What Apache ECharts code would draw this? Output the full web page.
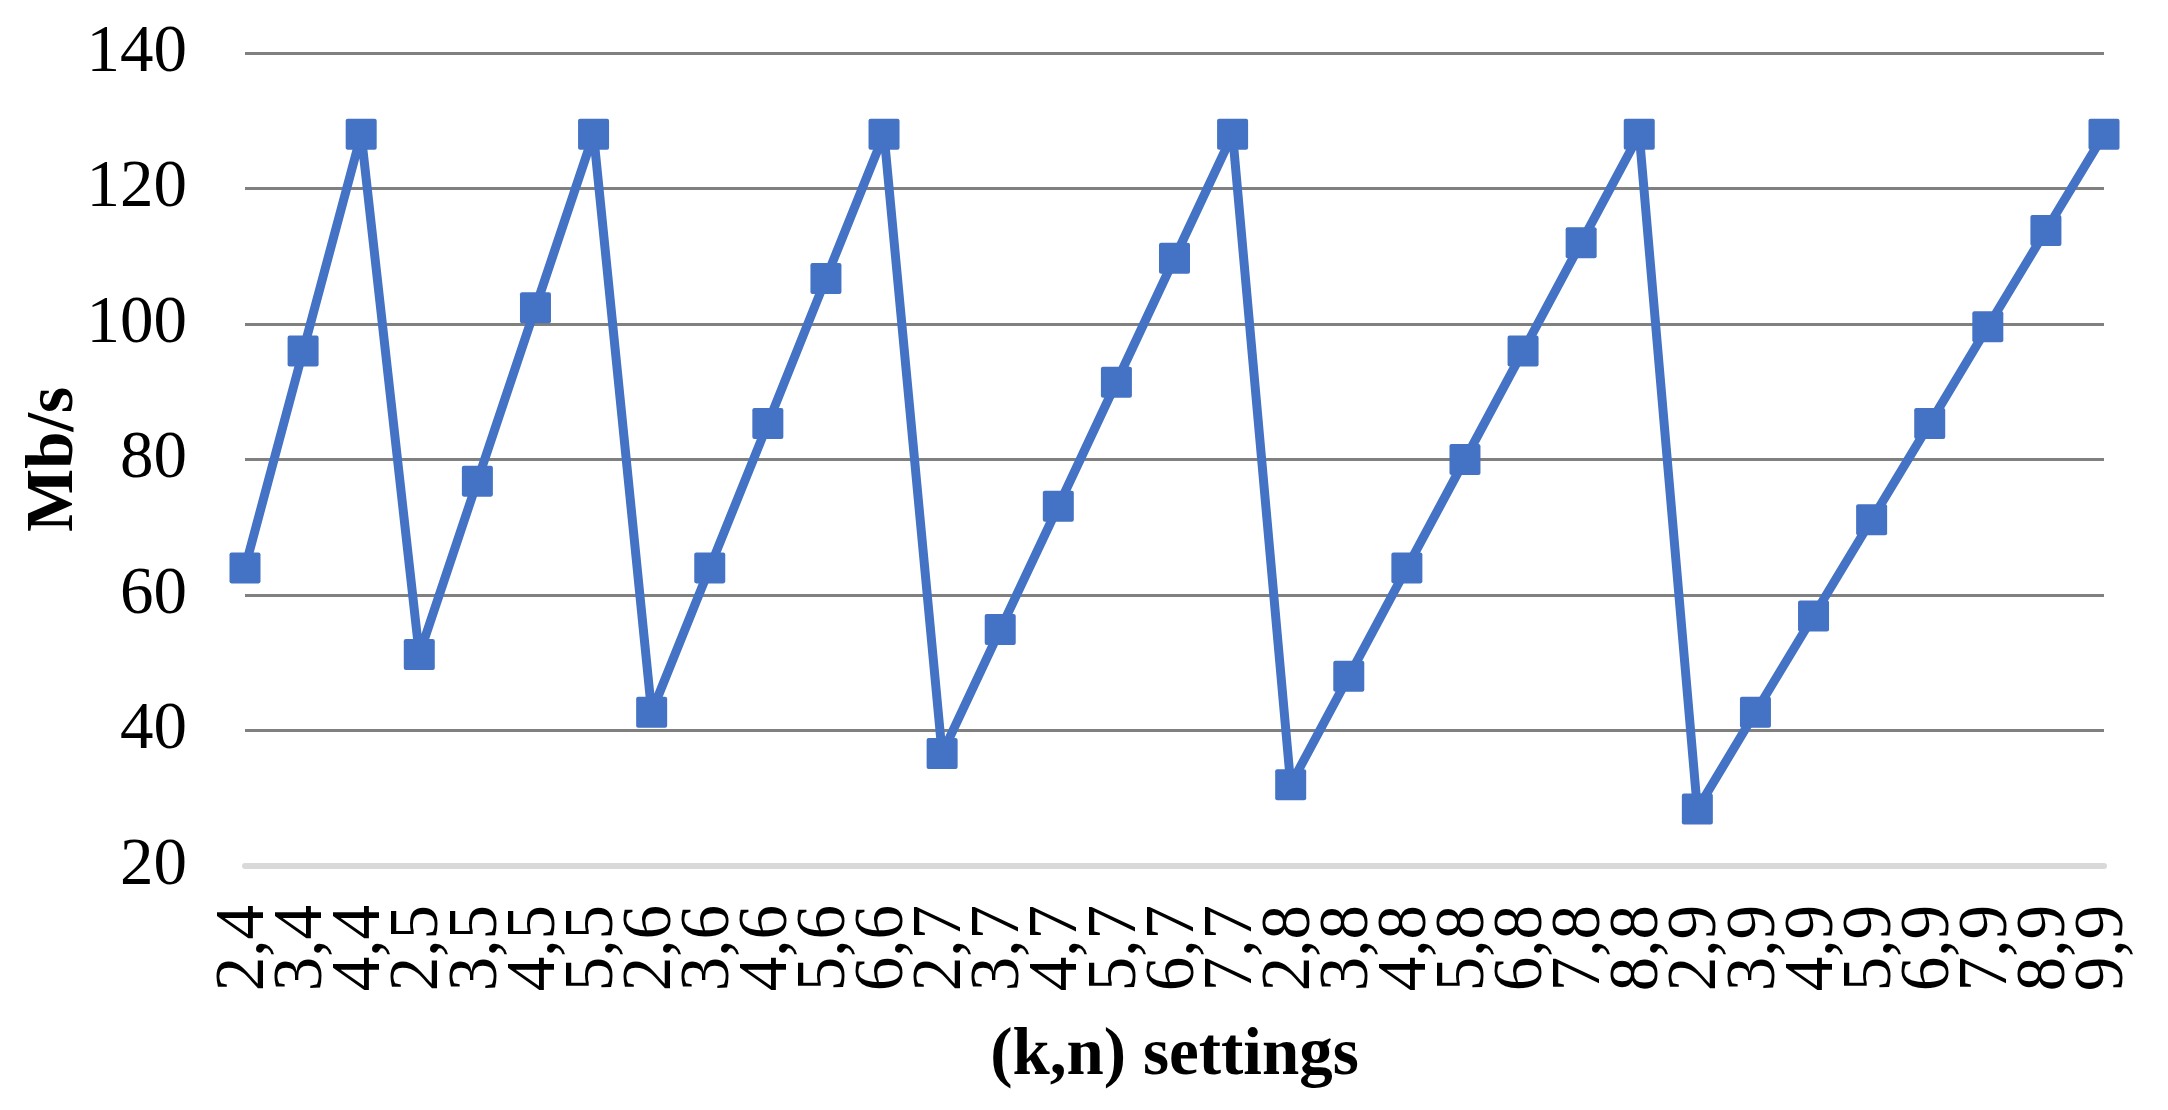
<!DOCTYPE html>
<html>
<head>
<meta charset="utf-8">
<script src="https://cdn.jsdelivr.net/npm/echarts@6/dist/echarts.min.js"></script>
<style>
html,body{margin:0;padding:0;background:#fff;}
#chart{width:2168px;height:1110px;}
</style>
</head>
<body>
<div id="chart"></div>
<script>
const categories = ['2,4','3,4','4,4','2,5','3,5','4,5','5,5','2,6','3,6','4,6','5,6','6,6',
  '2,7','3,7','4,7','5,7','6,7','7,7','2,8','3,8','4,8','5,8','6,8','7,8','8,8',
  '2,9','3,9','4,9','5,9','6,9','7,9','8,9','9,9'];
const throughput = [64, 96, 128, 51.2, 76.8, 102.4, 128, 42.7, 64, 85.3, 106.7, 128,
  36.6, 54.9, 73.1, 91.4, 109.7, 128, 32, 48, 64, 80, 96, 112, 128,
  28.4, 42.7, 56.9, 71.1, 85.3, 99.6, 113.8, 128];
const yTicks = [20, 40, 60, 80, 100, 120, 140];
const xTitle = '(k,n) settings';
const yTitle = 'Mb/s';

const chart = echarts.init(document.getElementById('chart'), null, {renderer: 'canvas'});
const font = '"Liberation Serif", "Times New Roman", serif';
chart.setOption({
  animation: false,
  backgroundColor: '#ffffff',
  grid: {left: 245, right: 64, top: 53, bottom: 244, containLabel: false},
  xAxis: {
    type: 'category',
    data: categories,
    boundaryGap: false,
    name: xTitle,
    nameLocation: 'middle',
    nameGap: 157,
    nameMoveOverlap: false,
    nameTextStyle: {fontFamily: font, fontSize: 67, fontWeight: 'bold', color: '#000'},
    axisLine: {show: true, lineStyle: {color: '#d9d9d9', width: 6}},
    axisTick: {show: false},
    axisLabel: {rotate: 90, interval: 0, margin: 39, fontFamily: font, fontSize: 69, color: '#000'},
    splitLine: {show: false}
  },
  yAxis: {
    type: 'value',
    min: yTicks[0],
    max: yTicks[yTicks.length - 1],
    interval: 20,
    name: yTitle,
    nameLocation: 'middle',
    nameGap: 157,
    nameMoveOverlap: false,
    nameTextStyle: {fontFamily: font, fontSize: 67, fontWeight: 'bold', color: '#000'},
    axisLine: {show: false},
    axisTick: {show: false},
    axisLabel: {margin: 58, fontFamily: font, fontSize: 67, color: '#000'},
    splitLine: {show: true, lineStyle: {color: ['rgba(0,0,0,0)','#808080','#808080','#808080','#808080','#808080','#808080'], width: 3}}
  },
  series: [{
    type: 'line',
    data: throughput,
    symbol: 'path://M2,0 H28 Q30,0 30,2 V28 Q30,30 28,30 H2 Q0,30 0,28 V2 Q0,0 2,0 Z',
    symbolSize: 31,
    showAllSymbol: true,
    lineStyle: {color: '#4472C4', width: 9},
    itemStyle: {color: '#4472C4'},
    z: 3
  }]
});
</script>
</body>
</html>
